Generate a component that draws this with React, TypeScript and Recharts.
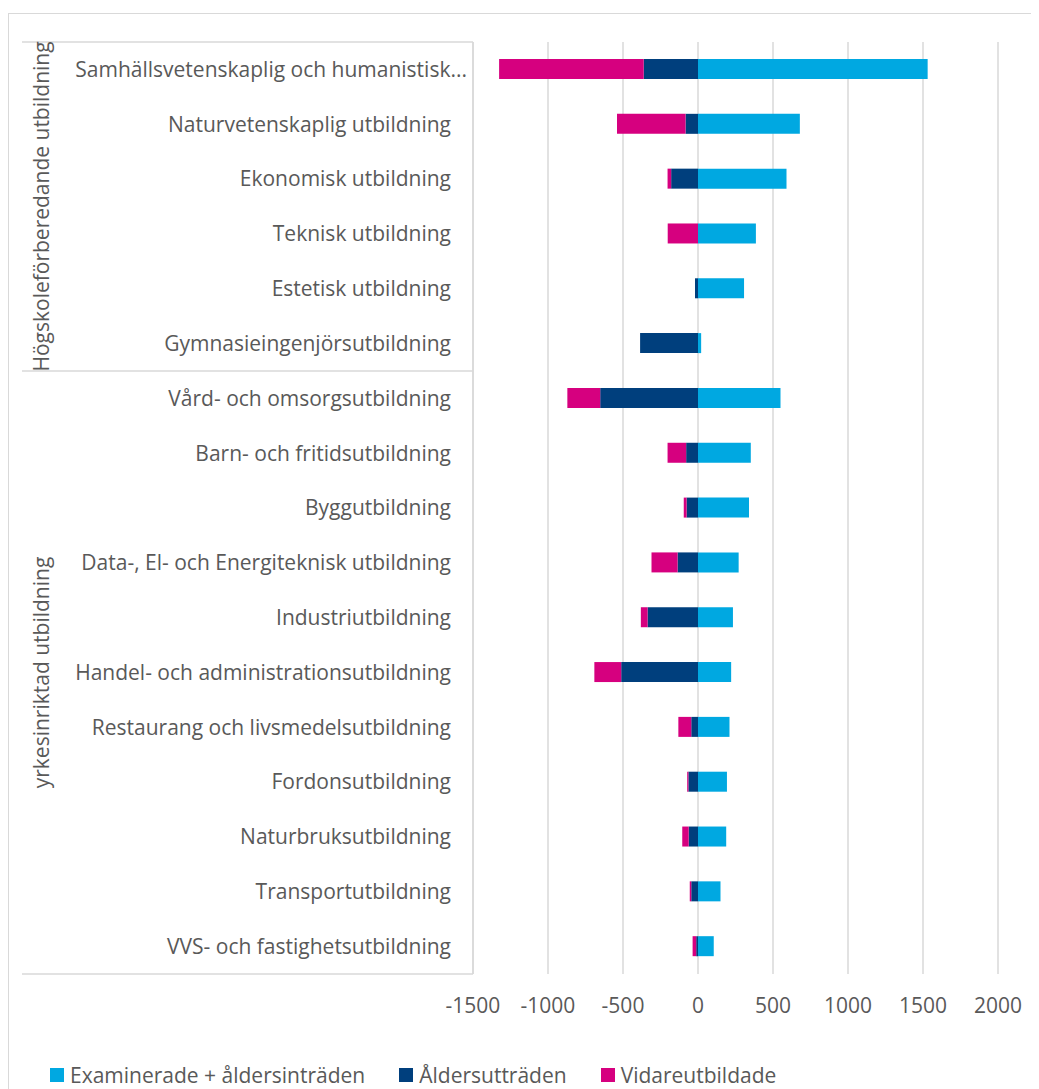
import React from "react";
import { Bar, BarChart, CartesianGrid, Legend, XAxis, YAxis } from "recharts";

const categories = [
  "Samhällsvetenskaplig och humanistisk...",
  "Naturvetenskaplig utbildning",
  "Ekonomisk utbildning",
  "Teknisk utbildning",
  "Estetisk utbildning",
  "Gymnasieingenjörsutbildning",
  "Vård- och omsorgsutbildning",
  "Barn- och fritidsutbildning",
  "Byggutbildning",
  "Data-, El- och Energiteknisk utbildning",
  "Industriutbildning",
  "Handel- och administrationsutbildning",
  "Restaurang och livsmedelsutbildning",
  "Fordonsutbildning",
  "Naturbruksutbildning",
  "Transportutbildning",
  "VVS- och fastighetsutbildning",
];

const groupNames = ["Högskoleförberedande utbildning", "yrkesinriktad utbildning"];
const groupSizes = [6, 11];

const examinerade = [1531, 679, 590, 386, 307, 21, 550, 352, 340, 271, 233, 221, 210, 193, 188, 150, 105];
const aldersutträden = [-362, -83, -179, 0, -20, -386, -652, -79, -76, -136, -336, -512, -45, -64, -62, -45, -12];
const vidareutbildade = [-964, -457, -24, -202, 0, 0, -219, -124, -19, -174, -45, -179, -86, -8, -43, -10, -24];

const xTicks = [-1500, -1000, -500, 0, 500, 1000, 1500, 2000];

const seriesNames = ["Examinerade + åldersinträden", "Åldersutträden", "Vidareutbildade"];
const COLORS = ["#00a8e1", "#003f7d", "#d6007f"];

const data = categories.map((name, i) => ({
  name,
  examinerade: examinerade[i],
  alder: aldersutträden[i],
  vidare: vidareutbildade[i],
}));

const W = 1030;
const H = 1075;
const MARGIN = { top: 28, right: 41, bottom: 31, left: 0 };
const Y_AXIS_W = 464;
const X_AXIS_H = 60;
const LEGEND_H = 24;
const PLOT_H = H - MARGIN.top - MARGIN.bottom - X_AXIS_H - LEGEND_H;
const BAND = PLOT_H / categories.length;
const FONT = 21;
const TEXT = "#595959";
const GRID = "#d9d9d9";

const groupStarts = groupSizes.map((_, g) =>
  groupSizes.slice(0, g).reduce((a, b) => a + b, 0)
);

function CategoryTick(props: any) {
  const { y, payload, index } = props;
  const label = String(payload.value);
  const truncated = label.endsWith("...");
  const g = groupStarts.indexOf(index);
  const last = index === categories.length - 1;
  return (
    <g>
      <text
        x={Y_AXIS_W - 22 + (truncated ? 16 : 0)}
        y={y}
        dy="0.35em"
        textAnchor="end"
        fill={TEXT}
        fontSize={FONT}
      >
        {label}
      </text>
      {g >= 0 && (
        <>
          <line x1={13} x2={Y_AXIS_W} y1={y - BAND / 2} y2={y - BAND / 2} stroke={GRID} strokeWidth={1.5} />
          <text
            transform={`translate(33, ${y + ((groupSizes[g] - 1) * BAND) / 2}) rotate(-90)`}
            textAnchor="middle"
            dy="0.35em"
            fill={TEXT}
            fontSize={FONT}
          >
            {groupNames[g]}
          </text>
        </>
      )}
      {last && (
        <line x1={13} x2={Y_AXIS_W} y1={y + BAND / 2} y2={y + BAND / 2} stroke={GRID} strokeWidth={1.5} />
      )}
    </g>
  );
}

function LegendContent() {
  return (
    <div style={{ display: "flex", height: LEGEND_H, alignItems: "center", paddingLeft: 41 }}>
      {seriesNames.map((n, i) => (
        <div key={n} style={{ display: "flex", alignItems: "center", marginRight: 34 }}>
          <span style={{ width: 14, height: 14, background: COLORS[i], marginRight: 6, display: "inline-block" }} />
          <span style={{ fontSize: FONT, color: TEXT, lineHeight: `${LEGEND_H}px`, whiteSpace: "nowrap" }}>{n}</span>
        </div>
      ))}
    </div>
  );
}

export default function App() {
  return (
    <div
      style={{
        marginTop: 5,
        width: 1031,
        height: H + 1,
        borderTop: `1px solid ${GRID}`,
        borderLeft: `1px solid ${GRID}`,
        boxSizing: "border-box",
        fontFamily: "'Open Sans', sans-serif",
        background: "#fff",
      }}
    >
      <BarChart width={W} height={H} data={data} layout="vertical" stackOffset="sign" margin={MARGIN} barSize={20}>
        <CartesianGrid horizontal={false} stroke={GRID} strokeWidth={1.5} />
        <XAxis
          type="number"
          domain={[-1500, 2000]}
          ticks={xTicks}
          height={X_AXIS_H}
          axisLine={false}
          tickLine={false}
          tickSize={0}
          tickMargin={24}
          tick={{ fill: TEXT, fontSize: FONT }}
        />
        <YAxis
          type="category"
          dataKey="name"
          width={Y_AXIS_W}
          interval={0}
          axisLine={{ stroke: GRID, strokeWidth: 1.5 }}
          tickLine={false}
          tick={<CategoryTick />}
        />
        <Legend verticalAlign="bottom" height={LEGEND_H} wrapperStyle={{ bottom: 2, left: 0 }} content={<LegendContent />} />
        <Bar dataKey="examinerade" name={seriesNames[0]} stackId="a" fill={COLORS[0]} isAnimationActive={false} />
        <Bar dataKey="alder" name={seriesNames[1]} stackId="a" fill={COLORS[1]} isAnimationActive={false} />
        <Bar dataKey="vidare" name={seriesNames[2]} stackId="a" fill={COLORS[2]} isAnimationActive={false} />
      </BarChart>
    </div>
  );
}
